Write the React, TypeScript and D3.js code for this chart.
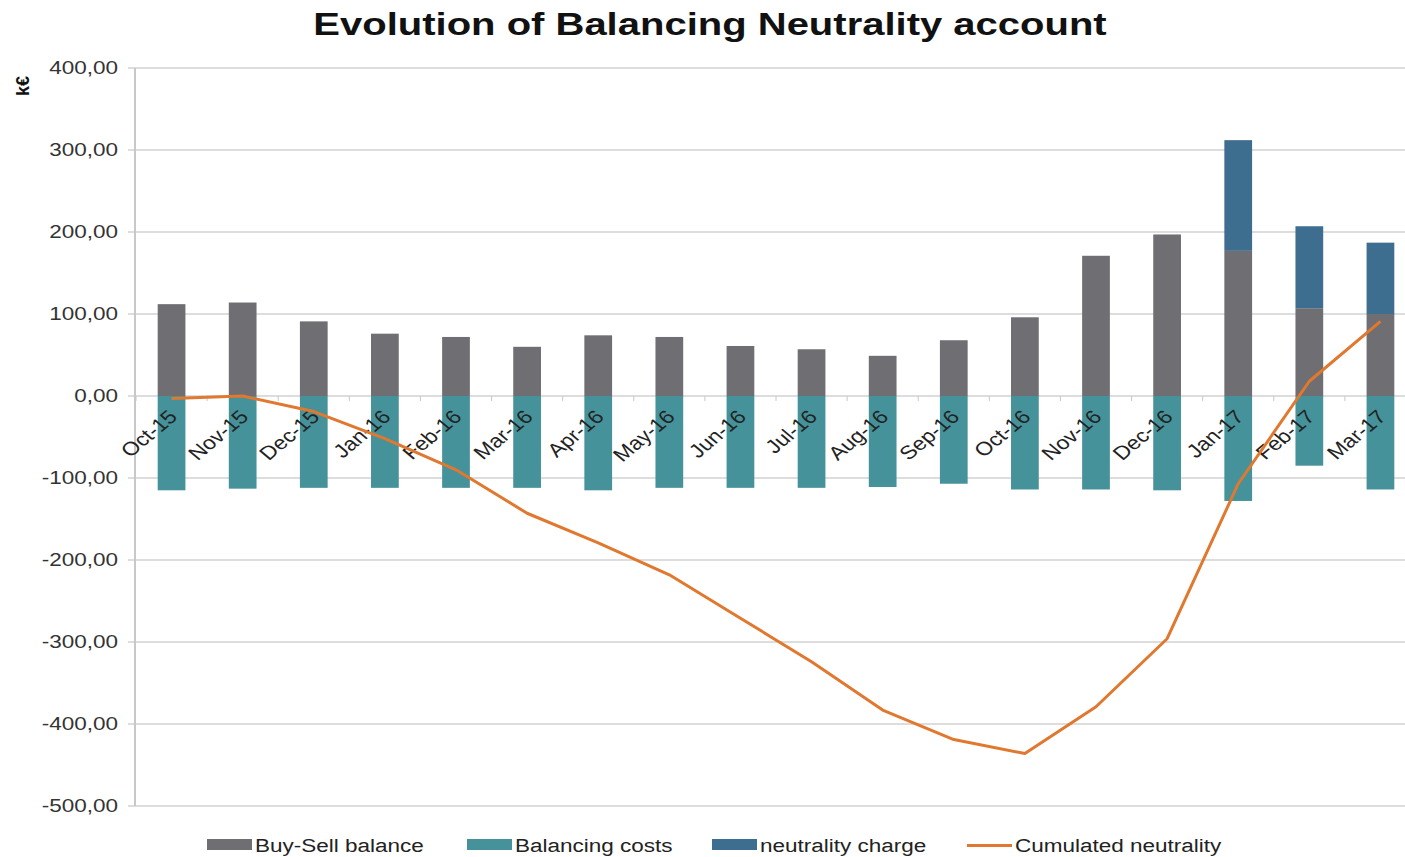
import React from "react";
import * as d3 from "d3";

const categories = ["Oct-15","Nov-15","Dec-15","Jan-16","Feb-16","Mar-16","Apr-16","May-16","Jun-16","Jul-16","Aug-16","Sep-16","Oct-16","Nov-16","Dec-16","Jan-17","Feb-17","Mar-17"];
const buySellBalance = [112, 114, 91, 76, 72, 60, 74, 72, 61, 57, 49, 68, 96, 171, 197, 177, 107, 100];
const balancingCosts = [-115, -113, -112, -112, -112, -112, -115, -112, -112, -112, -111, -107, -114, -114, -115, -128, -85, -114];
const neutralityCharge = [0, 0, 0, 0, 0, 0, 0, 0, 0, 0, 0, 0, 0, 0, 0, 135, 100, 87];
const cumulatedNeutrality = [-3, 0, -19, -52, -90, -143, -179, -218, -271, -324, -383, -419, -436, -379, -296, -107, 18, 91];
const yTicks = [400, 300, 200, 100, 0, -100, -200, -300, -400, -500];

const seriesKeys = ["buySell", "balancing", "neutrality"];
const seriesNames = ["Buy-Sell balance", "Balancing costs", "neutrality charge", "Cumulated neutrality"];
const colors: Record<string, string> = {
  buySell: "#6f6e73",
  balancing: "#45929a",
  neutrality: "#3d6d8f",
  line: "#e0782f",
};

const W = 1405;
const H = 857;
const FONT = "'Liberation Sans', Arial, sans-serif";
const SX = 1.25;

export default function App() {
  const x = d3
    .scaleBand<string>()
    .domain(categories)
    .range([136, 1416])
    .paddingInner(0.61)
    .paddingOuter(0.305);
  const y = d3.scaleLinear().domain([-500, 400]).range([806, 68]);

  const rows = categories.map((c, i) => ({
    cat: c,
    buySell: buySellBalance[i],
    balancing: balancingCosts[i],
    neutrality: neutralityCharge[i],
  }));
  const stacked = d3
    .stack<any>()
    .keys(seriesKeys)
    .offset(d3.stackOffsetDiverging)(rows);

  const line = d3
    .line<number>()
    .x((_, i) => (x(categories[i]) as number) + x.bandwidth() / 2)
    .y((d) => y(d));

  const fmt = (v: number) => d3.format(".2f")(v).replace(".", ",").replace("\u2212", "-");

  const legendItems = [
    { key: "buySell", sx: 207, tx: 255 },
    { key: "balancing", sx: 467, tx: 515 },
    { key: "neutrality", sx: 712, tx: 760 },
    { key: "line", sx: 967, tx: 1015 },
  ];

  const step = x.step();
  const boundaries = d3.range(categories.length + 1).map((i) => 136 + i * step);

  return (
    <svg
      width={W}
      height={H}
      style={{ position: "absolute", left: 0, top: 0, background: "#fff" }}
      fontFamily={FONT}
    >
      <rect x={0} y={0} width={W} height={H} fill="#fff" />
      {/* title */}
      <text
        transform={`translate(710,35) scale(${SX},1)`}
        textAnchor="middle"
        fontSize={32}
        fontWeight="bold"
        fill="#111"
      >
        Evolution of Balancing Neutrality account
      </text>
      {/* y axis label */}
      <text
        transform="translate(29,86) rotate(-90)"
        textAnchor="middle"
        fontSize={18}
        fontWeight="bold"
        fill="#111"
      >
        k€
      </text>
      {/* gridlines */}
      {yTicks.map((t) => (
        <g key={t}>
          <line x1={128} x2={W} y1={y(t)} y2={y(t)} stroke="#d2d2d2" strokeWidth={1.5} />
          <text
            transform={`translate(118,${y(t) + 6}) scale(${SX},1)`}
            textAnchor="end"
            fontSize={18}
            fill="#333"
          >
            {fmt(t)}
          </text>
        </g>
      ))}
      {/* y axis */}
      <line x1={135} x2={135} y1={y(400)} y2={y(-500)} stroke="#c8c8c8" strokeWidth={2} />
      {/* bars */}
      {stacked.map((s) => (
        <g key={s.key} fill={colors[s.key]}>
          {s.map((d, i) => {
            const top = y(Math.max(d[0], d[1]));
            const bot = y(Math.min(d[0], d[1]));
            if (bot - top <= 0) return null;
            return (
              <rect
                key={i}
                x={x(categories[i])}
                y={top}
                width={x.bandwidth()}
                height={bot - top}
              />
            );
          })}
        </g>
      ))}
      {/* zero axis ticks */}
      {boundaries.map((b, i) => (
        <line key={i} x1={b} x2={b} y1={y(0)} y2={y(0) + 5} stroke="#c8c8c8" strokeWidth={1} />
      ))}
      {/* x labels */}
      {categories.map((c) => {
        const cx = (x(c) as number) + x.bandwidth() / 2;
        return (
          <text
            key={c}
            transform={`translate(${cx + 7},${y(0) + 22}) scale(1.2,1) rotate(-45)`}
            textAnchor="end"
            fontSize={19}
            fill="#222"
          >
            {c}
          </text>
        );
      })}
      {/* cumulated line */}
      <path
        d={line(cumulatedNeutrality) as string}
        fill="none"
        stroke={colors.line}
        strokeWidth={3}
        strokeLinejoin="round"
      />
      {/* legend */}
      {legendItems.map((it, i) => (
        <g key={it.key}>
          {it.key === "line" ? (
            <rect x={it.sx} y={844} width={45} height={3} fill={colors.line} />
          ) : (
            <rect x={it.sx} y={839} width={45} height={11} fill={colors[it.key]} />
          )}
          <text
            transform={`translate(${it.tx},${851.5}) scale(${SX},1)`}
            fontSize={18}
            fill="#222"
          >
            {seriesNames[i]}
          </text>
        </g>
      ))}
    </svg>
  );
}
